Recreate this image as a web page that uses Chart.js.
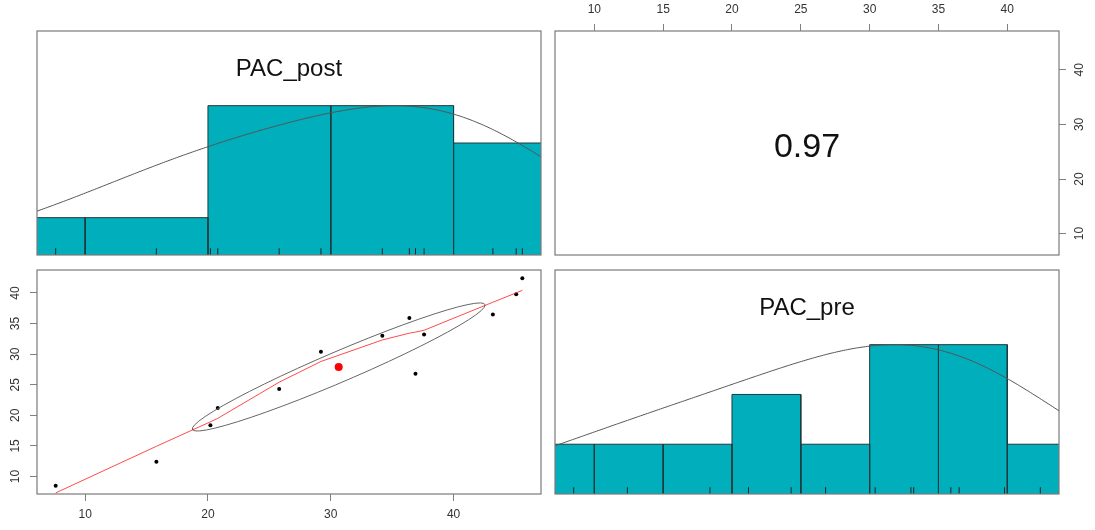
<!DOCTYPE html>
<html>
<head>
<meta charset="utf-8">
<script src="https://cdn.jsdelivr.net/npm/chart.js@4.4.1/dist/chart.umd.min.js"></script>
<style>
  html, body { margin: 0; padding: 0; background: #fff; }
  #wrap { position: relative; width: 1095px; height: 530px; overflow: hidden; }
  #wrap canvas { position: absolute; left: 0; top: 0; }
</style>
</head>
<body>
<div id="wrap">
  <canvas id="cTL" width="1095" height="530"></canvas>
  <canvas id="cTR" width="1095" height="530"></canvas>
  <canvas id="cBL" width="1095" height="530"></canvas>
  <canvas id="cBR" width="1095" height="530"></canvas>
</div>
<script>
// data (13 cases, sorted by PAC_post)
const varNames = ["PAC_post", "PAC_pre"];
const pacPost = [7.6, 15.8, 20.2, 20.8, 25.8, 29.2, 34.2, 36.4, 36.9, 37.6, 43.2, 45.1, 45.6];
const pacPre  = [8.5, 12.4, 18.4, 21.2, 24.3, 30.4, 33.0, 35.9, 26.8, 33.2, 36.5, 39.8, 42.4];

// histogram bins as drawn
const postBreaks = [0, 10, 20, 30, 40, 50];
const postCounts = [1, 1, 4, 4, 3];
const preBreaks  = [5, 10, 15, 20, 25, 30, 35, 40, 45];
const preCounts  = [1, 1, 1, 2, 1, 3, 3, 1];

const corrLabel = "0.97";

// tick labels
const postTicksBottom = [10, 20, 30, 40];
const preTicksLeft    = [10, 15, 20, 25, 30, 35, 40];
const preTicksTop     = [10, 15, 20, 25, 30, 35, 40];
const postTicksRight  = [10, 20, 30, 40];

// ---- layout / style
const W = 1095, H = 530;
const LABEL_GAP = 21;
const HIST_COL = "#00AFBB";
const BOX_COL = "#7a7a7a";
const TICK_COL = "#808080";
const FONT = '"Liberation Sans", Arial, sans-serif';

// ---- helpers
function padRange(v) {
  const lo = Math.min(...v), hi = Math.max(...v), d = (hi - lo) * 0.04;
  return [lo - d, hi + d];
}
function mean(v) { return v.reduce((a, b) => a + b, 0) / v.length; }
function sd(v) {
  const m = mean(v);
  return Math.sqrt(v.reduce((a, b) => a + (b - m) ** 2, 0) / (v.length - 1));
}
function cor(x, y) {
  const mx = mean(x), my = mean(y);
  let sxy = 0, sxx = 0, syy = 0;
  for (let i = 0; i < x.length; i++) {
    sxy += (x[i] - mx) * (y[i] - my);
    sxx += (x[i] - mx) ** 2;
    syy += (y[i] - my) ** 2;
  }
  return sxy / Math.sqrt(sxx * syy);
}
function quantile7(v, p) {
  const s = [...v].sort((a, b) => a - b);
  const h = (s.length - 1) * p, lo = Math.floor(h);
  const hiV = lo + 1 < s.length ? s[lo + 1] : s[lo];
  return s[lo] + (h - lo) * (hiV - s[lo]);
}
function bwNrd(v) {
  const h = (quantile7(v, 0.75) - quantile7(v, 0.25)) / 1.34;
  return 1.06 * Math.min(sd(v), h) * Math.pow(v.length, -0.2);
}
// gaussian kde like density(x, bw="nrd", adjust=1.2), scaled to max 1
function densityCurve(v, adjust) {
  const bw = bwNrd(v) * adjust;
  const lo = Math.min(...v) - 3 * bw, hi = Math.max(...v) + 3 * bw;
  const pts = [];
  for (let i = 0; i < 512; i++) {
    const x = lo + (hi - lo) * i / 511;
    let s = 0;
    for (const xi of v) { const z = (x - xi) / bw; s += Math.exp(-0.5 * z * z); }
    pts.push({ x: x, y: s });
  }
  const mx = Math.max(...pts.map(p => p.y));
  pts.forEach(p => { p.y /= mx; });
  return pts;
}

// R's clowess
function lowest(x, y, n, xs, nleft, nright, w, userw, rw) {
  const range = x[n - 1] - x[0];
  const h = Math.max(xs - x[nleft], x[nright] - xs);
  const h9 = 0.999 * h, h1 = 0.001 * h;
  let a = 0, j = nleft;
  while (j < n) {
    w[j] = 0;
    const r = Math.abs(x[j] - xs);
    if (r <= h9) {
      w[j] = r <= h1 ? 1 : Math.pow(1 - Math.pow(r / h, 3), 3);
      if (userw) w[j] *= rw[j];
      a += w[j];
    } else if (x[j] > xs) break;
    j++;
  }
  const nrt = j - 1;
  if (a <= 0) return null;
  for (j = nleft; j <= nrt; j++) w[j] /= a;
  if (h > 0) {
    a = 0;
    for (j = nleft; j <= nrt; j++) a += w[j] * x[j];
    let b = xs - a, c = 0;
    for (j = nleft; j <= nrt; j++) c += w[j] * (x[j] - a) * (x[j] - a);
    if (Math.sqrt(c) > 0.001 * range) {
      b /= c;
      for (j = nleft; j <= nrt; j++) w[j] *= (b * (x[j] - a) + 1);
    }
  }
  let ys = 0;
  for (j = nleft; j <= nrt; j++) ys += w[j] * y[j];
  return ys;
}
function lowess(xIn, yIn, f = 2 / 3, nsteps = 3) {
  const ord = xIn.map((v, i) => i).sort((a, b) => xIn[a] - xIn[b]);
  const x = ord.map(i => xIn[i]), y = ord.map(i => yIn[i]);
  const n = x.length;
  const delta = 0.01 * (x[n - 1] - x[0]);
  const ns = Math.max(2, Math.min(n, Math.floor(f * n + 1e-7)));
  const ys = new Array(n).fill(0), rw = new Array(n).fill(1);
  const res = new Array(n).fill(0), w = new Array(n).fill(0);
  let iter = 1;
  while (iter <= nsteps + 1) {
    let nleft = 0, nright = ns - 1, last = -1, i = 0;
    for (;;) {
      if (nright < n - 1) {
        const d1 = x[i] - x[nleft], d2 = x[nright + 1] - x[i];
        if (d1 > d2) { nleft++; nright++; continue; }
      }
      const v = lowest(x, y, n, x[i], nleft, nright, w, iter > 1, rw);
      ys[i] = v === null ? y[i] : v;
      if (last < i - 1) {
        const denom = x[i] - x[last];
        for (let j = last + 1; j < i; j++) {
          const alpha = (x[j] - x[last]) / denom;
          ys[j] = alpha * ys[i] + (1 - alpha) * ys[last];
        }
      }
      last = i;
      const cut = x[last] + delta;
      for (i = last + 1; i < n; i++) {
        if (x[i] > cut) break;
        if (x[i] === x[last]) { ys[i] = ys[last]; last = i; }
      }
      i = Math.max(last + 1, i - 1);
      if (last >= n - 1) break;
    }
    for (let k = 0; k < n; k++) res[k] = y[k] - ys[k];
    const sc = res.reduce((a, r) => a + Math.abs(r), 0) / n;
    if (iter > nsteps) break;
    const ar = res.map(Math.abs);
    const sorted = [...ar].sort((a, b) => a - b);
    const m1 = Math.floor(n / 2);
    const cmad = n % 2 === 0 ? 3 * (sorted[m1] + sorted[n - m1 - 1]) : 6 * sorted[m1];
    if (cmad < 1e-7 * sc) break;
    const c9 = 0.999 * cmad, c1 = 0.001 * cmad;
    for (let k = 0; k < n; k++) {
      const r = ar[k];
      rw[k] = r <= c1 ? 1 : (r <= c9 ? Math.pow(1 - Math.pow(r / cmad, 2), 2) : 0);
    }
    iter++;
  }
  return x.map((xv, k) => ({ x: xv, y: ys[k] }));
}

// psych::draw.ellipse, 1 sd
function corEllipse(x, y) {
  const xm = mean(x), ym = mean(y), xs = sd(x), ys = sd(y), r = cor(x, y);
  const th = (r !== 0 ? Math.sign(r) : 1) / Math.SQRT2;
  const a = Math.sqrt(1 + r), b = Math.sqrt(1 - r);
  const pts = [];
  for (let k = 0; k <= 51; k++) {
    const ang = k * 2 * Math.PI / 51, c = Math.cos(ang), s = Math.sin(ang);
    pts.push({ x: (c * a * th - s * b * th) * xs + xm, y: (c * a * th + s * b * th) * ys + ym });
  }
  return pts;
}

function binDatasets(breaks, counts) {
  const mx = Math.max(...counts);
  return counts.map((c, i) => ({
    data: [
      { x: breaks[i], y: 0 }, { x: breaks[i], y: c / mx },
      { x: breaks[i + 1], y: c / mx }, { x: breaks[i + 1], y: 0 }
    ],
    fill: "origin",
    backgroundColor: HIST_COL,
    borderColor: "#1e3a3c",
    borderWidth: 1,
    pointRadius: 0,
    tension: 0
  }));
}
function rugDataset(v) {
  const data = [];
  v.forEach(val => { data.push({ x: val, y: 0 }, { x: val, y: 0.045 }, { x: val, y: null }); });
  return { data: data, borderColor: "#222", borderWidth: 1, pointRadius: 0, spanGaps: false, fill: false };
}
function densityDataset(v) {
  return { data: densityCurve(v, 1.2), borderColor: "#555", borderWidth: 1, pointRadius: 0, fill: false, tension: 0 };
}

function fixedTicks(vals) {
  return scale => { scale.ticks = vals.map(v => ({ value: v })); };
}

// box, tick labels (rotated on vertical sides) and panel text
const rPanel = {
  id: "rPanel",
  afterDraw(chart, args, opts) {
    const ctx = chart.ctx, a = chart.chartArea;
    ctx.save();
    ctx.strokeStyle = BOX_COL;
    ctx.lineWidth = 1.2;
    ctx.strokeRect(a.left, a.top, a.right - a.left, a.bottom - a.top);
    ctx.fillStyle = "#333";
    ctx.font = "12px " + FONT;
    ctx.textAlign = "center";
    ctx.textBaseline = "middle";
    Object.values(chart.scales).forEach(sc => {
      if (!sc.options.display) return;
      sc.ticks.forEach(t => {
        const p = sc.getPixelForValue(t.value), txt = String(t.value);
        if (sc.position === "bottom") ctx.fillText(txt, p, a.bottom + LABEL_GAP);
        else if (sc.position === "top") ctx.fillText(txt, p, a.top - LABEL_GAP);
        else {
          ctx.save();
          ctx.translate(sc.position === "left" ? a.left - LABEL_GAP : a.right + LABEL_GAP, p);
          ctx.rotate(-Math.PI / 2);
          ctx.fillText(txt, 0, 0);
          ctx.restore();
        }
      });
    });
    if (opts && opts.text) {
      ctx.fillStyle = "#111";
      ctx.font = opts.size + "px " + FONT;
      ctx.textBaseline = "alphabetic";
      ctx.fillText(opts.text, (a.left + a.right) / 2, a.top + opts.baseline);
    }
    ctx.restore();
  }
};

function baseOptions(padding, scales, panelOpts) {
  return {
    responsive: false,
    animation: false,
    devicePixelRatio: 1,
    events: [],
    layout: { padding: padding },
    plugins: { legend: { display: false }, tooltip: { enabled: false }, rPanel: panelOpts },
    scales: scales
  };
}
function axis(pos, range, ticks, size) {
  const horiz = pos === "top" || pos === "bottom";
  return {
    type: "linear", position: pos, min: range[0], max: range[1],
    afterBuildTicks: fixedTicks(ticks),
    afterFit: s => { if (horiz) s.height = size; else s.width = size; },
    ticks: { display: false },
    border: { display: false },
    grid: { display: true, drawOnChartArea: false, drawTicks: true, tickLength: 7, color: TICK_COL, lineWidth: 1 }
  };
}
function hidden(range) { return { type: "linear", display: false, min: range[0], max: range[1] }; }

const postRange = padRange(pacPost);
const preRange = padRange(pacPre);
const histY = [0, 1.5];

// top-left: PAC_post histogram
new Chart(document.getElementById("cTL"), {
  type: "line",
  data: { datasets: [rugDataset(pacPost), densityDataset(pacPost), ...binDatasets(postBreaks, postCounts)] },
  options: baseOptions({ left: 37, top: 31, right: W - 541, bottom: H - 255 },
    { x: hidden(postRange), y: hidden(histY) },
    { text: varNames[0], size: 24, baseline: 44.5 }),
  plugins: [rPanel]
});

// top-right: correlation
new Chart(document.getElementById("cTR"), {
  type: "line",
  data: { datasets: [] },
  options: baseOptions({ left: 555, top: 0, right: 0, bottom: H - 255 },
    { x: axis("top", preRange, preTicksTop, 31), y: axis("right", postRange, postTicksRight, W - 1059) },
    { text: corrLabel, size: 34, baseline: 126 }),
  plugins: [rPanel]
});

// bottom-left: scatter with lowess and correlation ellipse
const pts = pacPost.map((x, i) => ({ x: x, y: pacPre[i] }));
new Chart(document.getElementById("cBL"), {
  type: "line",
  data: {
    datasets: [
      { data: lowess(pacPost, pacPre), borderColor: "rgba(255,30,30,0.8)", borderWidth: 1, pointRadius: 0, fill: false, tension: 0 },
      { data: corEllipse(pacPost, pacPre), borderColor: "#666", borderWidth: 1, pointRadius: 0, fill: false, tension: 0 },
      { data: [{ x: mean(pacPost), y: mean(pacPre) }], showLine: false, pointRadius: 4, pointBackgroundColor: "#ff0000", pointBorderWidth: 0 },
      { data: pts, showLine: false, pointRadius: 2, pointBackgroundColor: "#000", pointBorderWidth: 0 }
    ]
  },
  options: baseOptions({ left: 0, top: 270, right: W - 541, bottom: 0 },
    { x: axis("bottom", postRange, postTicksBottom, H - 494), y: axis("left", preRange, preTicksLeft, 37) },
    {}),
  plugins: [rPanel]
});

// bottom-right: PAC_pre histogram
new Chart(document.getElementById("cBR"), {
  type: "line",
  data: { datasets: [rugDataset(pacPre), densityDataset(pacPre), ...binDatasets(preBreaks, preCounts)] },
  options: baseOptions({ left: 555, top: 270, right: W - 1059, bottom: H - 494 },
    { x: hidden(preRange), y: hidden(histY) },
    { text: varNames[1], size: 24, baseline: 44.5 }),
  plugins: [rPanel]
});
</script>
</body>
</html>
